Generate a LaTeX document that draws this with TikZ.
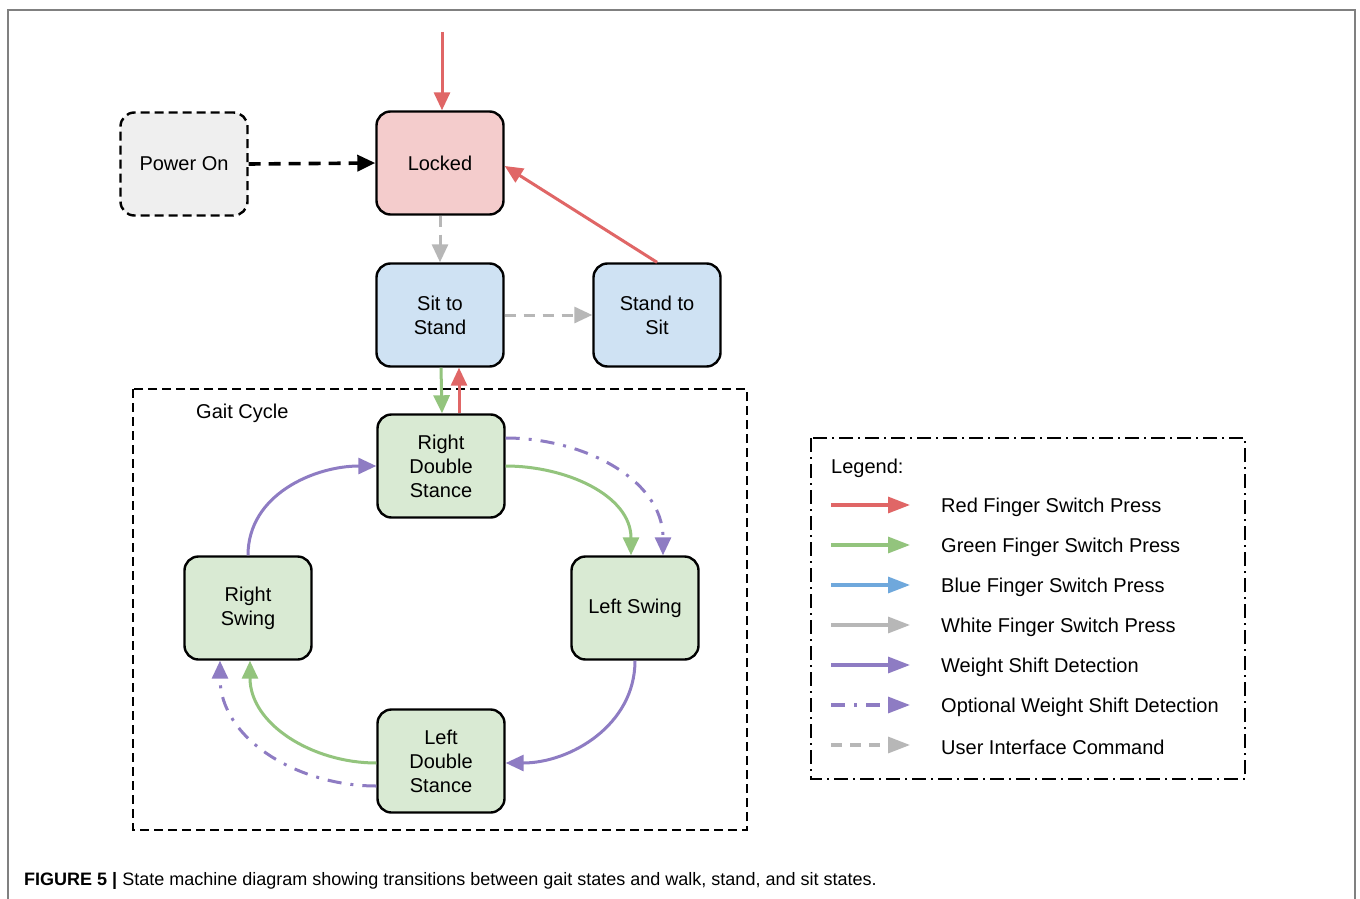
\documentclass[tikz,border=0pt]{standalone}
\usepackage{fontspec}
\setmainfont{Liberation Sans}
\newfontfamily\capfont{Liberation Sans}
\usetikzlibrary{arrows.meta,calc}
\definecolor{cred}{HTML}{E06666}
\definecolor{cgreen}{HTML}{93C47D}
\definecolor{cblue}{HTML}{6FA8DC}
\definecolor{cgray}{HTML}{B7B7B7}
\definecolor{cpurple}{HTML}{8E7CC3}
\definecolor{fred}{HTML}{F4CCCC}
\definecolor{fblue}{HTML}{CFE2F3}
\definecolor{fgreen}{HTML}{D9EAD3}
\definecolor{fgray}{HTML}{EFEFEF}
\definecolor{frame}{HTML}{808080}
\begin{document}
\begin{tikzpicture}[x=1pt,y=-1pt,
  state/.style={draw=black,line width=2.4pt,rounded corners=14pt,minimum width=127pt,minimum height=103pt,align=center,inner sep=2pt,font=\fontsize{20}{24}\selectfont},
  lbl/.style={font=\fontsize{20}{24}\selectfont,inner sep=0pt},
  arr/.style={line width=3pt,-{Triangle[length=18pt,width=16pt]}},
  larr/.style={line width=3.2pt,-{Triangle[length=22pt,width=16pt]}},
  uicmd/.style={dash pattern=on 11pt off 8pt},
  opt/.style={dash pattern=on 14pt off 9pt on 3pt off 9pt},
]
\useasboundingbox (0,0) rectangle (1360,899);
\fill[white] (0,0) rectangle (1360,899);
% outer frame
\draw[frame,line width=2pt] (8,899) -- (8,10) -- (1355,10) -- (1355,899);

% gait cycle box
\draw[black,line width=2.2pt,dash pattern=on 9pt off 5pt] (133,389) rectangle (747,830);
\node[lbl,anchor=west] (gc) at (196,413) {Gait Cycle};

% states
\node[state,fill=fgray,dash pattern=on 9pt off 5pt] (power) at (184,164) {Power On};
\node[state,fill=fred] (locked) at (440,163) {Locked};
\node[state,fill=fblue] (sits) at (440,315) {Sit to\\Stand};
\node[state,fill=fblue] (stsit) at (657,315) {Stand to\\Sit};
\node[state,fill=fgreen] (rds) at (441,466) {Right\\Double\\Stance};
\node[state,fill=fgreen] (rsw) at (248,608) {Right\\Swing};
\node[state,fill=fgreen] (lsw) at (635,608) {Left Swing};
\node[state,fill=fgreen] (lds) at (441,761) {Left\\Double\\Stance};

\coordinate (topin) at (442,32);

% top arrows
\draw[arr,cred] (topin) -- ([xshift=2pt]locked.north);
\draw[arr,black,line width=3.6pt,dash pattern=on 12pt off 8pt] (power.east) -- (locked.west);
\draw[arr,cgray,uicmd] (locked.south) -- (sits.north);
\draw[arr,cgray,uicmd] (sits.east) -- (stsit.west);
\draw[arr,cred] (stsit.north) -- ([yshift=-3pt]locked.east);
\draw[arr,cgreen] ([xshift=1pt]sits.south) -- ([xshift=1pt]rds.north);
\draw[arr,cred] ([xshift=18pt]rds.north) -- ([xshift=19pt]sits.south);

% gait cycle arrows
\draw[arr,cgreen] (rds.east) to[out=0,in=90] ([xshift=-4pt]lsw.north);
\draw[arr,cpurple,opt] ([yshift=28pt]rds.east) to[out=0,in=90] ([xshift=28pt]lsw.north);
\draw[arr,cpurple] (lsw.south) to[out=-90,in=0] ([yshift=-2pt]lds.east);
\draw[arr,cgreen] ([yshift=-2pt]lds.west) to[out=180,in=-90] ([xshift=2pt]rsw.south);
\draw[arr,cpurple,opt] ([yshift=-25pt]lds.west) to[out=180,in=-90] ([xshift=-28pt]rsw.south);
\draw[arr,cpurple] (rsw.north) to[out=90,in=180] (rds.west);

% legend
\draw[black,line width=2.2pt,dash pattern=on 14pt off 5pt on 2pt off 5pt] (811,438) rectangle (1245,779);
\node[lbl,anchor=west] (leg) at (831,468) {Legend:};
\foreach \y/\c/\s/\t [count=\i] in {
  505/cred/solid/Red Finger Switch Press,
  545/cgreen/solid/Green Finger Switch Press,
  585/cblue/solid/Blue Finger Switch Press,
  625/cgray/solid/White Finger Switch Press,
  665/cpurple/solid/Weight Shift Detection,
  705/cpurple/opt/Optional Weight Shift Detection,
  745/cgray/uicmd/User Interface Command}{
  \coordinate (ls\i) at (831,\y);
  \coordinate (le\i) at (910,\y);
  \draw[larr,\c,\s] (ls\i) -- (le\i);
  \node[lbl,anchor=west] (lt\i) at (941,\y+2) {\t};
}

% caption
\node[anchor=west,inner sep=0pt,font=\fontsize{18}{22}\selectfont] (cap) at (24,881)
  {\textbf{FIGURE 5 |} {\capfont State machine diagram showing transitions between gait states and walk, stand, and sit states.}};
\end{tikzpicture}
\end{document}
